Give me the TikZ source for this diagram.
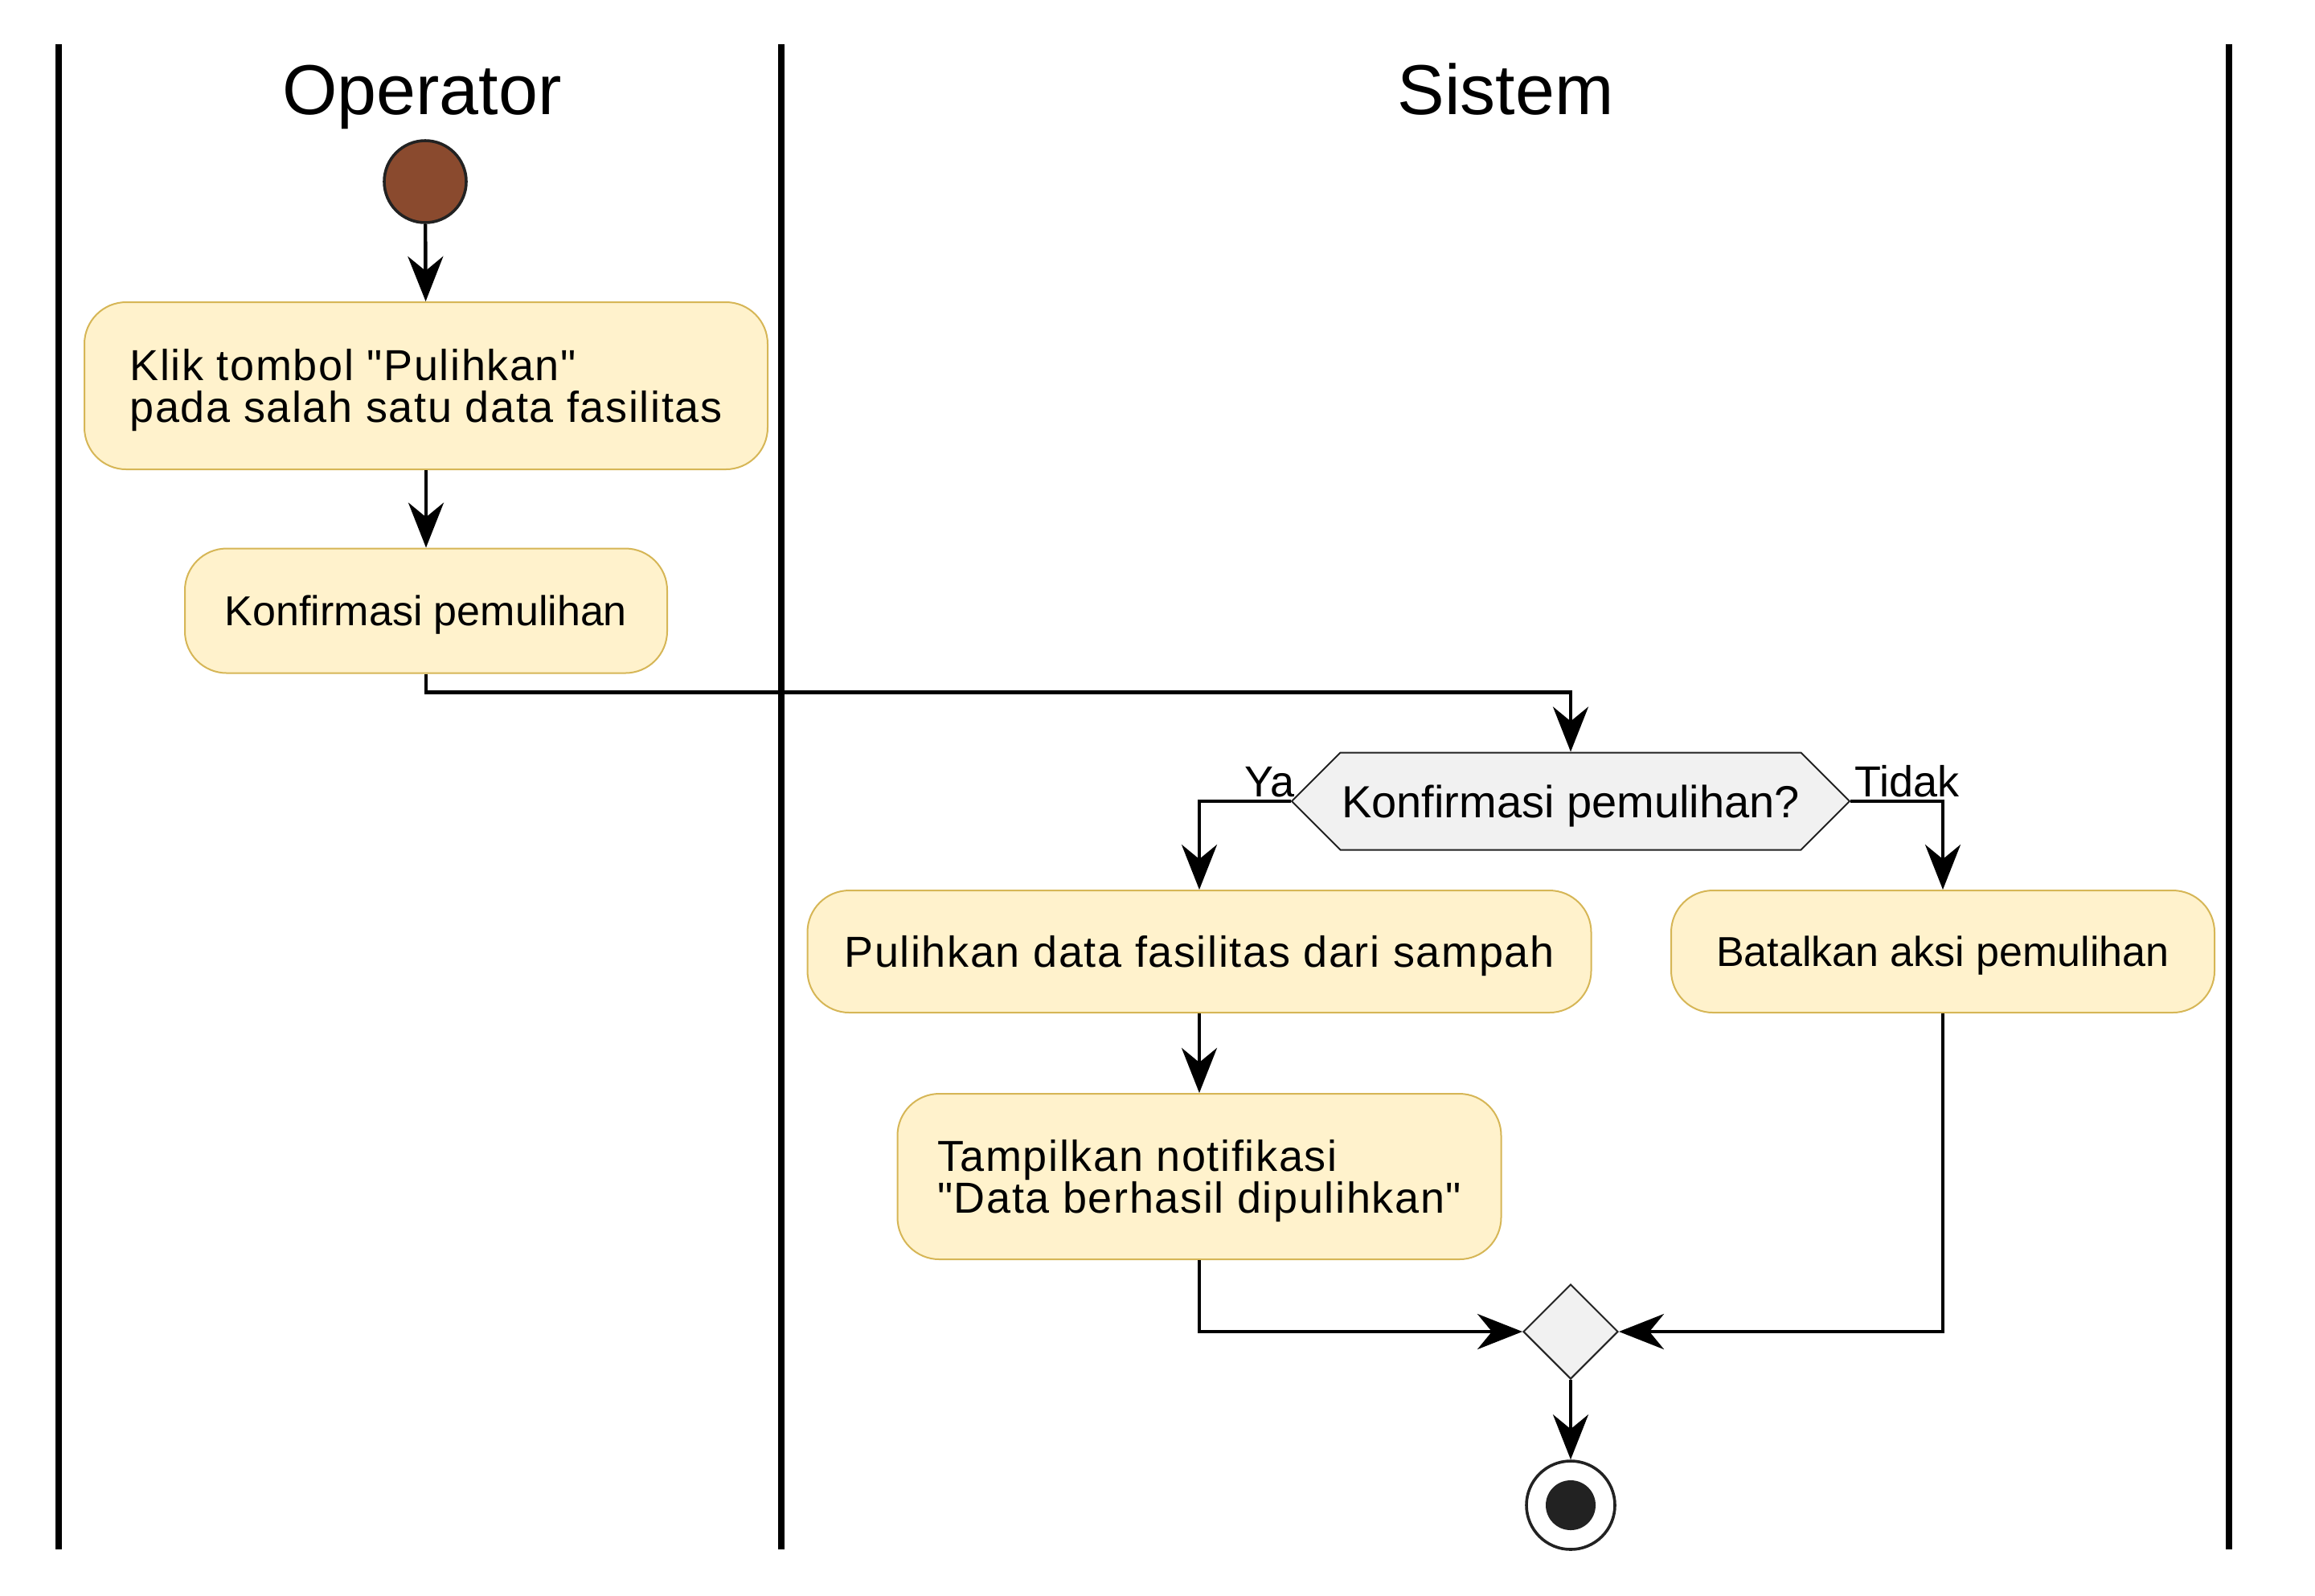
\documentclass[tikz,border=0pt]{standalone}
\usepackage{fontspec}
\setmainfont{Liberation Sans}[Ligatures=TeXOff]
\usepackage{tikz}
\usetikzlibrary{arrows.meta,shapes.geometric,shapes.symbols}
\definecolor{actfill}{HTML}{FFF2CC}
\definecolor{actline}{HTML}{D6B656}
\definecolor{startfill}{HTML}{8A4A2E}
\definecolor{gatefill}{HTML}{F1F1F1}
\definecolor{ink}{HTML}{222222}
\def\actfont{\fontsize{13.5}{12.85}\selectfont\addfontfeatures{LetterSpace=3}}
\def\actplain{\fontsize{13}{12.85}\selectfont}
\tikzset{
	lane/.style={line width=1.8pt},
	lanetitle/.style={font=\fontsize{22}{26}\selectfont, anchor=base},
	act/.style={draw=actline, fill=actfill, line width=0.5pt, rounded corners=13pt, align=left, inner sep=0pt, text depth=0pt, font=\actfont},
	gate/.style={draw=ink, fill=gatefill, line width=0.5pt, inner sep=0pt},
	lbl/.style={font=\fontsize{13.5}{16}\selectfont, inner sep=1pt},
	flow/.style={-{Stealth[length=14pt, width=11pt, inset=4.5pt]}, line width=1.1pt},
}

\begin{document}
\begin{tikzpicture}[x=25pt, y=-25pt]
	\useasboundingbox (0, 0) rectangle (28.8, 19.85);

	\draw[lane] (0.73, 0.55) -- (0.73, 19.28);
	\draw[lane] (9.72, 0.55) -- (9.72, 19.28);
	\draw[lane] (27.73, 0.55) -- (27.73, 19.28);
	\node[lanetitle] (operator) at (5.25, 1.42) {Operator};
	\node[lanetitle] (sistem) at (18.73, 1.42) {Sistem};

	\node[circle, draw=ink, fill=startfill, line width=0.9pt, minimum size=25.5pt] (start) at (5.29, 2.26) {};
	\node[act, minimum width=212.5pt, minimum height=52pt] (klik) at (5.30, 4.80) {Klik tombol "Pulihkan"\\pada salah satu data fasilitas};
	\node[act, minimum width=150pt, minimum height=38.75pt, font=\actplain] (konfirm) at (5.30, 7.60) {Konfirmasi pemulihan};
	\node[gate, signal, signal to=west and east, signal pointer angle=90, minimum width=173.5pt, minimum height=30.25pt, text depth=0pt, font=\fontsize{14}{16}\selectfont] (cek) at (19.54, 9.97) {Konfirmasi pemulihan?};
	\node[lbl, anchor=south east, xshift=2.5pt] (ya) at (cek.west) {Ya};
	\node[lbl, anchor=south west] (tidak) at (cek.east) {Tidak};
	\node[act, minimum width=243.75pt, minimum height=38pt] (pulihkan) at (14.92, 11.84) {Pulihkan data fasilitas dari sampah};
	\node[act, minimum width=169pt, minimum height=38pt, font=\actplain] (batal) at (24.17, 11.84) {Batalkan aksi pemulihan};
	\node[act, minimum width=187.75pt, minimum height=51.5pt] (notif) at (14.92, 14.64) {Tampilkan notifikasi\\"Data berhasil dipulihkan"};
	\node[gate, diamond, aspect=1, minimum size=29.5pt] (gabung) at (19.54, 16.57) {};
	\node[circle, draw=ink, line width=0.9pt, minimum size=27.5pt, path picture={\fill[ink] (path picture bounding box.center) circle (7.75pt);}] (stop) at (19.54, 18.73) {};

	\draw[flow] (start) -- (klik);
	\draw[flow] (klik) -- (konfirm);
	\draw[flow] (konfirm.south) -- ++(0, 0.23) -| (cek.north);
	\draw[flow] (cek.west) -| (pulihkan.north);
	\draw[flow] (cek.east) -| (batal.north);
	\draw[flow] (pulihkan) -- (notif);
	\draw[flow] (notif.south) |- (gabung.west);
	\draw[flow] (batal.south) |- (gabung.east);
	\draw[flow] (gabung) -- (stop);
\end{tikzpicture}
\end{document}
